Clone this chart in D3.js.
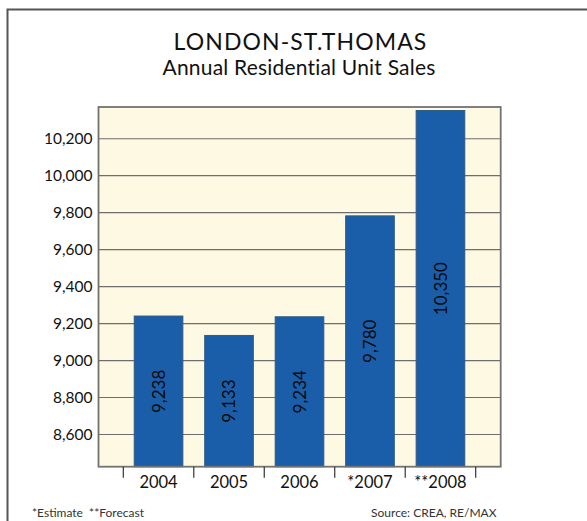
<!DOCTYPE html>
<html>
<head>
<meta charset="utf-8">
<script src="https://cdnjs.cloudflare.com/ajax/libs/d3/7.8.5/d3.min.js"></script>
<style>
  html, body { margin: 0; padding: 0; background: #ffffff; }
  svg { display: block; }
  text { font-family: Lato, "Open Sans", sans-serif; }
</style>
</head>
<body>
<script>
// Annual residential unit sales, London-St. Thomas
const years = ["2004", "2005", "2006", "*2007", "**2008"];
const sales = [9238, 9133, 9234, 9780, 10350];
const yTicks = [8600, 8800, 9000, 9200, 9400, 9600, 9800, 10000, 10200];
const titleLines = ["LONDON-ST.THOMAS", "Annual Residential Unit Sales"];
const footLeft = "*Estimate  **Forecast";
const footRight = "Source: CREA, RE/MAX";

const W = 587, H = 521;
const plot = { left: 98.5, right: 500.7, top: 107, bottom: 466.7 };

const svg = d3.select("body").append("svg")
  .attr("width", W).attr("height", H);

// outer frame
svg.append("path")
  .attr("d", `M7.5,${H + 5} V9.5 H${W + 5}`)
  .attr("fill", "none").attr("stroke", "#555").attr("stroke-width", 2);

// titles
svg.append("text").attr("x", 300.5).attr("y", 49.5)
  .attr("text-anchor", "middle").attr("font-size", 23).attr("fill", "#111")
  .attr("letter-spacing", 1.1)
  .text(titleLines[0]);
svg.append("text").attr("x", 299).attr("y", 75)
  .attr("text-anchor", "middle").attr("font-size", 21).attr("fill", "#111")
  .attr("letter-spacing", 0.2)
  .text(titleLines[1]);

const y = d3.scaleLinear().domain([8423, 10369]).range([plot.bottom, plot.top]);
const x = d3.scaleBand().domain(years).range([123.3, 475.7])
  .paddingInner(0.31).paddingOuter(0.155);

// plot background
svg.append("rect")
  .attr("x", plot.left).attr("y", plot.top)
  .attr("width", plot.right - plot.left).attr("height", plot.bottom - plot.top)
  .attr("fill", "#fef9e2");

// gridlines and y labels
const yAxis = d3.axisLeft(y).tickValues(yTicks).tickFormat(d3.format(","))
  .tickSize(-(plot.right - plot.left)).tickPadding(6);
const gy = svg.append("g").attr("transform", `translate(${plot.left},0)`).call(yAxis);
gy.select(".domain").remove();
gy.selectAll(".tick line").attr("stroke", "#6e6e6e").attr("stroke-width", 1.2);
gy.selectAll(".tick text").attr("font-size", 15.5).attr("fill", "#111")
  .attr("font-family", "Lato, 'Open Sans', sans-serif").attr("dy", "0.36em");

// bars
svg.append("g").selectAll("rect").data(sales).join("rect")
  .attr("x", (d, i) => x(years[i]))
  .attr("y", d => y(d))
  .attr("width", x.bandwidth())
  .attr("height", d => plot.bottom - y(d))
  .attr("fill", "#1a5ea9")
  .attr("stroke", "#2d5a86").attr("stroke-width", 1);

// value labels inside the bars
svg.append("g").selectAll("text").data(sales).join("text")
  .attr("transform", (d, i) => {
    const cx = x(years[i]) + x.bandwidth() / 2;
    const cy = (y(d) + plot.bottom) / 2;
    return `translate(${cx},${cy}) rotate(-90)`;
  })
  .attr("text-anchor", "middle").attr("dy", "0.36em")
  .attr("font-size", 17).attr("fill", "#0a0a0a")
  .text(d => d3.format(",")(d));

// plot frame
svg.append("rect")
  .attr("x", plot.left).attr("y", plot.top)
  .attr("width", plot.right - plot.left).attr("height", plot.bottom - plot.top)
  .attr("fill", "none").attr("stroke", "#727272").attr("stroke-width", 1.8);

// category separators below the axis
const step = x.step();
const sepX = years.map(d => x(d) - (step - x.bandwidth()) / 2)
  .concat([x(years[years.length - 1]) + x.bandwidth() + (step - x.bandwidth()) / 2]);
svg.append("g").selectAll("line").data(sepX).join("line")
  .attr("x1", d => d).attr("x2", d => d)
  .attr("y1", plot.bottom).attr("y2", plot.bottom + 11)
  .attr("stroke", "#333").attr("stroke-width", 1.2);

// category labels
svg.append("g").selectAll("text").data(years).join("text")
  .attr("x", d => x(d) + x.bandwidth() / 2)
  .attr("y", 488)
  .attr("text-anchor", "middle").attr("font-size", 16.5).attr("fill", "#111")
  .text(d => d);

// footnotes
svg.append("text").attr("x", 32).attr("y", 516.5)
  .attr("font-size", 12).attr("fill", "#333")
  .style("white-space", "pre")
  .text(footLeft);
svg.append("text").attr("x", 496.5).attr("y", 516.5)
  .attr("text-anchor", "end").attr("font-size", 12).attr("fill", "#333")
  .text(footRight);
</script>
</body>
</html>
